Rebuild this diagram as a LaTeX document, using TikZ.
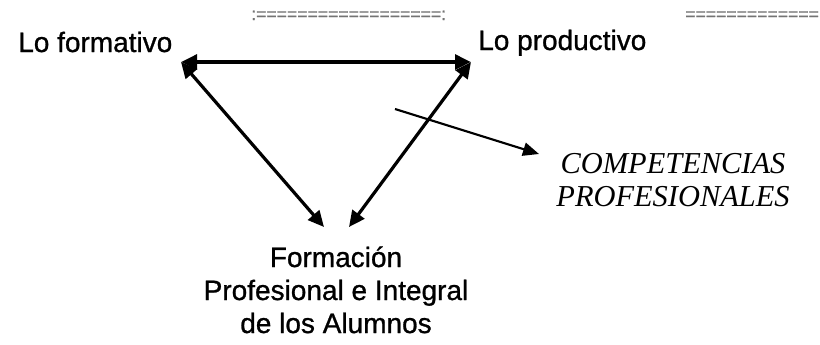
\documentclass[tikz,border=0pt]{standalone}
\usepackage{fontspec}
\setmainfont[FakeBold=0.9]{Liberation Sans}
\newfontfamily\timesfont{Liberation Serif}
\usetikzlibrary{arrows.meta}
\tikzset{
  lbl/.style={inner sep=0pt, font=\fontsize{21}{24.75}\selectfont, text=black},
  comp/.style={inner sep=0pt, align=center, font=\timesfont\itshape\fontsize{22.8}{24.75}\selectfont},
  sep/.style={inner sep=0pt, anchor=base west, text=black!55, font=\fontsize{13.2}{14}\selectfont},
  dbl/.style={line width=2.4pt, {Triangle[length=12pt,width=11pt]}-{Triangle[length=12pt,width=11pt]}},
  one/.style={line width=1.6pt, -{Triangle[length=12pt,width=10pt]}},
}
\begin{document}
\begin{tikzpicture}[x=0.75pt,y=-0.75pt]
\useasboundingbox (0,0) rectangle (820,344);
% separators
\node[sep] (s1) at (251,20) {:==================:};
\node[sep] (s2) at (685,20) {=============};
% labels
\node[lbl, anchor=base west] (lf) at (18,52) {Lo formativo};
\node[lbl, anchor=base west] (lp) at (478,50) {Lo productivo};
\node[lbl, align=center, anchor=base] (fp) at (336,333) {Formación\\Profesional e Integral\\de los Alumnos};
\node[comp, anchor=base] (cp) at (673,206) {COMPETENCIAS\\PROFESIONALES};
% arrow ends
\coordinate (F) at (181,62);
\coordinate (P) at (471,62);
\coordinate (B1) at (324,227);
\coordinate (B2) at (349,227);
\coordinate (C0) at (395,109);
\coordinate (C1) at (539,154);
% arrows
\draw[dbl, line width=2.7pt] (F) -- (P);
\draw[dbl] (F) -- (B1);
\draw[dbl] (P) -- (B2);
\draw[one] (C0) -- (C1);
\end{tikzpicture}
\end{document}
